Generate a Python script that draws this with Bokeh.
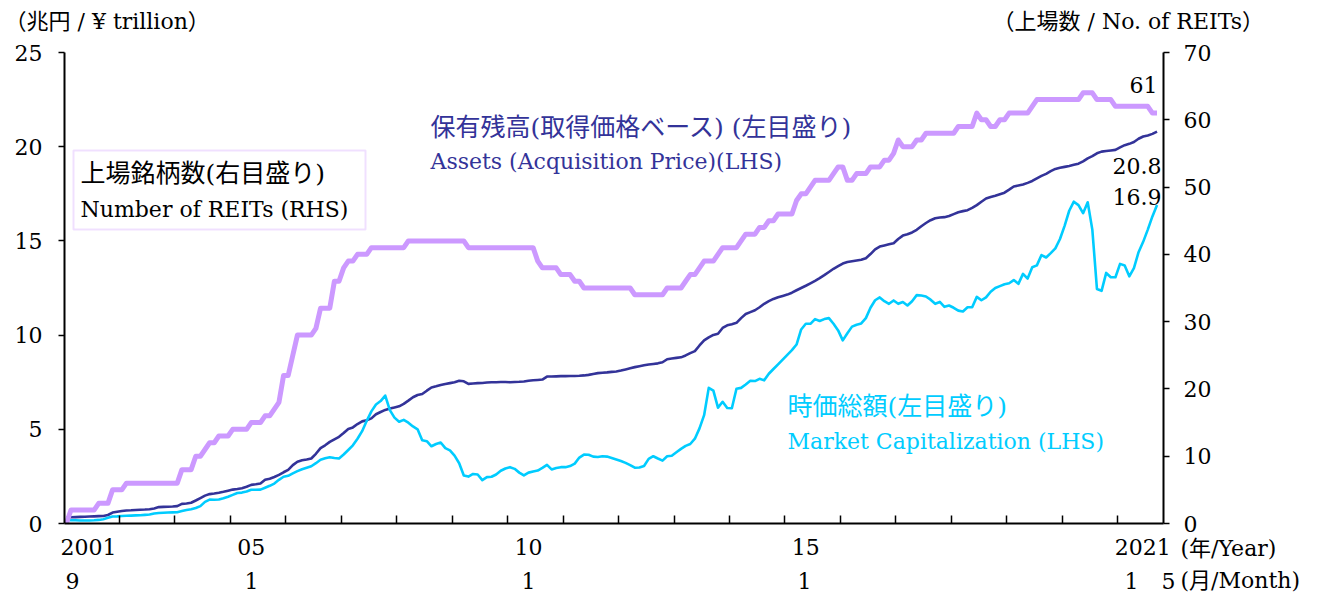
from bokeh.plotting import figure
from bokeh.models import Range1d, LinearAxis, FixedTicker, Label, BoxAnnotation
from bokeh.embed import file_html
from bokeh.resources import INLINE

# ---- data (monthly, 2001/9 .. 2021/5) ----
reits = [
    0, 2, 2, 2, 2, 2, 2, 3, 3, 3, 5, 5,
    5, 6, 6, 6, 6, 6, 6, 6, 6, 6, 6, 6,
    6, 8, 8, 8, 10, 10, 11, 12, 12, 13, 13, 13,
    14, 14, 14, 14, 15, 15, 15, 16, 16, 17, 18, 22,
    22, 25, 28, 28, 28, 28, 29, 32, 32, 32, 36, 36,
    38, 39, 39, 40, 40, 40, 41, 41, 41, 41, 41, 41,
    41, 41, 42, 42, 42, 42, 42, 42, 42, 42, 42, 42,
    42, 42, 42, 41, 41, 41, 41, 41, 41, 41, 41, 41,
    41, 41, 41, 41, 41, 41, 39, 38, 38, 38, 38, 37,
    37, 37, 36, 36, 35, 35, 35, 35, 35, 35, 35, 35,
    35, 35, 35, 34, 34, 34, 34, 34, 34, 34, 35, 35,
    35, 35, 36, 37, 37, 38, 39, 39, 39, 40, 41, 41,
    41, 41, 42, 43, 43, 43, 44, 44, 45, 45, 46, 46,
    46, 46, 48, 49, 49, 50, 51, 51, 51, 51, 52, 53,
    53, 51, 51, 52, 52, 52, 53, 53, 53, 54, 54, 55,
    57, 56, 56, 56, 57, 57, 58, 58, 58, 58, 58, 58,
    58, 59, 59, 59, 59, 61, 60, 60, 59, 59, 60, 60,
    61, 61, 61, 61, 61, 62, 63, 63, 63, 63, 63, 63,
    63, 63, 63, 63, 64, 64, 64, 63, 63, 63, 63, 62,
    62, 62, 62, 62, 62, 62, 62, 61, 61,
]

assets = [
    0.30, 0.33, 0.34, 0.35, 0.36, 0.37, 0.38, 0.39, 0.40, 0.45, 0.58, 0.62,
    0.66, 0.69, 0.70, 0.72, 0.73, 0.74, 0.76, 0.80, 0.87, 0.88, 0.89, 0.90,
    0.92, 1.04, 1.06, 1.10, 1.22, 1.35, 1.48, 1.56, 1.59, 1.63, 1.68, 1.74,
    1.80, 1.83, 1.87, 1.95, 2.05, 2.08, 2.12, 2.32, 2.38, 2.47, 2.58, 2.72,
    2.85, 3.10, 3.28, 3.36, 3.40, 3.45, 3.70, 4.00, 4.15, 4.33, 4.47, 4.60,
    4.80, 5.02, 5.10, 5.28, 5.42, 5.48, 5.58, 5.80, 5.92, 6.03, 6.10, 6.16,
    6.22, 6.35, 6.52, 6.70, 6.82, 6.87, 7.05, 7.22, 7.28, 7.35, 7.40, 7.45,
    7.50, 7.58, 7.55, 7.41, 7.43, 7.45, 7.46, 7.48, 7.50, 7.50, 7.51, 7.51,
    7.50, 7.51, 7.52, 7.54, 7.58, 7.60, 7.62, 7.64, 7.80, 7.80, 7.81, 7.82,
    7.82, 7.83, 7.83, 7.84, 7.86, 7.89, 7.94, 7.98, 8.00, 8.02, 8.05, 8.07,
    8.12, 8.18, 8.24, 8.30, 8.35, 8.40, 8.44, 8.47, 8.50, 8.56, 8.72, 8.76,
    8.79, 8.82, 8.92, 9.04, 9.15, 9.45, 9.72, 9.88, 10.01, 10.07, 10.38, 10.52,
    10.58, 10.65, 10.90, 11.12, 11.22, 11.32, 11.48, 11.66, 11.80, 11.92, 12.01, 12.08,
    12.15, 12.25, 12.38, 12.50, 12.62, 12.75, 12.88, 13.02, 13.18, 13.35, 13.52, 13.66,
    13.80, 13.88, 13.92, 13.96, 14.00, 14.08, 14.30, 14.55, 14.70, 14.76, 14.82, 14.88,
    15.10, 15.28, 15.35, 15.45, 15.59, 15.78, 15.95, 16.10, 16.20, 16.24, 16.26, 16.32,
    16.42, 16.52, 16.58, 16.63, 16.75, 16.90, 17.08, 17.25, 17.33, 17.40, 17.48, 17.56,
    17.72, 17.89, 17.94, 17.99, 18.08, 18.18, 18.32, 18.45, 18.56, 18.70, 18.82, 18.88,
    18.93, 18.98, 19.04, 19.10, 19.22, 19.38, 19.50, 19.65, 19.74, 19.77, 19.80, 19.83,
    19.96, 20.08, 20.15, 20.25, 20.42, 20.54, 20.60, 20.68, 20.80,
]

mktcap = [
    0.20, 0.18, 0.17, 0.16, 0.16, 0.16, 0.17, 0.19, 0.23, 0.30, 0.37, 0.38,
    0.40, 0.41, 0.42, 0.43, 0.44, 0.46, 0.48, 0.53, 0.56, 0.57, 0.58, 0.59,
    0.60, 0.66, 0.72, 0.76, 0.82, 0.92, 1.15, 1.27, 1.26, 1.27, 1.34, 1.42,
    1.52, 1.62, 1.64, 1.70, 1.79, 1.79, 1.80, 1.90, 2.00, 2.12, 2.32, 2.48,
    2.53, 2.66, 2.78, 2.88, 2.96, 3.04, 3.20, 3.38, 3.46, 3.52, 3.48, 3.45,
    3.66, 3.90, 4.15, 4.50, 4.90, 5.45, 5.95, 6.32, 6.50, 6.79, 6.02, 5.62,
    5.40, 5.50, 5.35, 5.15, 5.00, 4.42, 4.37, 4.10, 4.22, 4.30, 4.00, 3.88,
    3.60, 3.20, 2.55, 2.49, 2.63, 2.60, 2.30, 2.46, 2.48, 2.60, 2.80, 2.92,
    2.99, 2.90, 2.70, 2.55, 2.70, 2.76, 2.81, 2.95, 3.11, 2.87, 2.95, 2.99,
    2.99, 3.05, 3.18, 3.50, 3.66, 3.65, 3.55, 3.53, 3.57, 3.55, 3.48, 3.40,
    3.32, 3.22, 3.10, 2.96, 2.97, 3.05, 3.43, 3.57, 3.45, 3.34, 3.57, 3.60,
    3.78, 3.96, 4.12, 4.22, 4.50, 5.05, 5.75, 7.20, 7.05, 6.15, 6.46, 6.13,
    6.12, 7.15, 7.20, 7.38, 7.58, 7.56, 7.68, 7.60, 7.95, 8.20, 8.45, 8.70,
    8.95, 9.20, 9.50, 10.30, 10.60, 10.60, 10.85, 10.75, 10.85, 10.90, 10.60, 10.25,
    9.72, 10.10, 10.45, 10.55, 10.62, 10.90, 11.45, 11.85, 12.00, 11.80, 11.66, 11.84,
    11.66, 11.76, 11.57, 11.80, 12.12, 12.10, 12.05, 11.88, 11.66, 11.76, 11.50, 11.57,
    11.45, 11.30, 11.25, 11.48, 11.48, 12.03, 11.85, 12.00, 12.30, 12.50, 12.60, 12.70,
    12.75, 12.92, 12.72, 13.25, 13.00, 13.60, 13.70, 14.25, 14.12, 14.35, 14.60, 15.10,
    15.80, 16.60, 17.08, 16.90, 16.47, 17.05, 15.60, 12.45, 12.35, 13.30, 13.07, 13.07,
    13.78, 13.70, 13.12, 13.55, 14.40, 14.95, 15.60, 16.30, 16.90,
]

year_labels = ["2001", "05", "10", "15", "2021"]
month_labels = ["9", "1", "1", "1", "1", "5"]

x = list(range(len(reits)))

# ---- geometry: the frame fills the canvas; axes are pinned with fixed_location ----
W, H = 1325, 597
FL, FR, FT, FB = 64, 1163, 52, 523          # pixel box of the plotting area
XMIN, XMAX = -0.4, 237.4                     # month-index extent of that box
LMAX, RMAX = 25, 70                          # left / right axis maxima


def X(px):
    return XMIN + (px - FL) * (XMAX - XMIN) / (FR - FL)


def Y(py):
    return (FB - py) * LMAX / (FB - FT)


def R(py):
    return (FB - py) * RMAX / (FB - FT)


FONT = "'DejaVu Serif', 'Noto Sans CJK JP'"
C_REIT = "#cc99ff"
C_ASSET = "#333399"
C_MCAP = "#00ccff"

p = figure(width=W, height=H, output_backend="svg", toolbar_location=None, title=None,
           x_range=Range1d(X(0), X(W)), y_range=Range1d(Y(H), Y(0)),
           min_border=0)
p.outline_line_color = None
p.xgrid.grid_line_color = None
p.ygrid.grid_line_color = None
p.background_fill_color = "white"
p.border_fill_color = "white"

p.extra_y_ranges = {"right": Range1d(R(H), R(0))}

# x axis: ticks at year boundaries (inward), labels under January
year_ticks = [4.8, 40, 100, 160, 232.9]
xa = p.xaxis[0]
xa.fixed_location = 0
xa.bounds = (XMIN, XMAX)
xa.ticker = FixedTicker(ticks=year_ticks, minor_ticks=[11.5 + 12 * k for k in range(19)])
xa.major_label_overrides = {t: s for t, s in zip(year_ticks, year_labels)}
xa.axis_line_width = 2
xa.axis_line_color = "black"
xa.major_tick_in = 0
xa.major_tick_out = 0
xa.minor_tick_in = 8
xa.minor_tick_out = 0
xa.minor_tick_line_color = "black"
xa.minor_tick_line_width = 1.5
xa.major_label_text_font = "DejaVu Serif"
xa.major_label_text_font_size = "22px"
xa.major_label_text_color = "black"
xa.major_label_standoff = 15

ya = p.yaxis[0]
ya.fixed_location = XMIN
ya.bounds = (0, LMAX)
ya.ticker = FixedTicker(ticks=[0, 5, 10, 15, 20, 25])
ya.axis_line_width = 2
ya.axis_line_color = "black"
ya.major_tick_in = 0
ya.major_tick_out = 6
ya.major_tick_line_width = 1.5
ya.minor_tick_line_color = None
ya.major_label_text_font = "DejaVu Serif"
ya.major_label_text_font_size = "22px"
ya.major_label_text_color = "black"
ya.major_label_standoff = 16

ra = LinearAxis(y_range_name="right", fixed_location=XMAX, bounds=(0, RMAX),
                ticker=FixedTicker(ticks=list(range(0, 71, 10))))
ra.axis_line_width = 2
ra.axis_line_color = "black"
ra.major_tick_in = 0
ra.major_tick_out = 6
ra.major_tick_line_width = 1.5
ra.minor_tick_line_color = None
ra.major_label_text_font = "DejaVu Serif"
ra.major_label_text_font_size = "22px"
ra.major_label_text_color = "black"
ra.major_label_standoff = 14
p.add_layout(ra, "right")

# ---- series ----
p.line(x, assets, line_color=C_ASSET, line_width=2.6, line_join="round")
p.line(x, mktcap, line_color=C_MCAP, line_width=2.6, line_join="round")
p.line(x, reits, line_color=C_REIT, line_width=5, line_join="round", y_range_name="right")

# ---- legend box ----
p.add_layout(BoxAnnotation(left=X(73), right=X(365), top=Y(150), bottom=Y(229),
                           fill_color="white", fill_alpha=1.0,
                           line_color=C_REIT, line_width=2))


def lab(text, px, py, size, color="black", align="left"):
    p.add_layout(Label(x=X(px), y=Y(py), text=text, text_font=FONT,
                       text_font_size=f"{size}px", text_color=color,
                       text_align=align, text_baseline="middle"))


lab("（兆円 / ¥ trillion）", 4, 21, 22)
lab("（上場数 / No. of REITs）", 992, 21, 22)
lab("上場銘柄数(右目盛り)", 80, 173, 25)
lab("Number of REITs (RHS)", 80, 209, 22)
lab("保有残高(取得価格ベース) (左目盛り)", 430, 127, 25, C_ASSET)
lab("Assets (Acquisition Price)(LHS)", 430, 161, 22, C_ASSET)
lab("時価総額(左目盛り)", 787, 406, 25, C_MCAP)
lab("Market Capitalization (LHS)", 787, 441, 22, C_MCAP)

# end values
lab(f"{reits[-1]}", 1157, 84, 22, align="right")
lab(f"{assets[-1]:.1f}", 1161, 165, 22, align="right")
lab(f"{mktcap[-1]:.1f}", 1161, 196, 22, align="right")

# second row of x labels (months) and unit notes
for s, px in zip(month_labels, [72, 251, 528, 804, 1131, 1168]):
    lab(s, px, 580, 22, align="center")
lab("(年/Year)", 1180, 548, 22)
lab("(月/Month)", 1180, 580, 22)

open("out.html", "w").write(file_html(p, INLINE))
